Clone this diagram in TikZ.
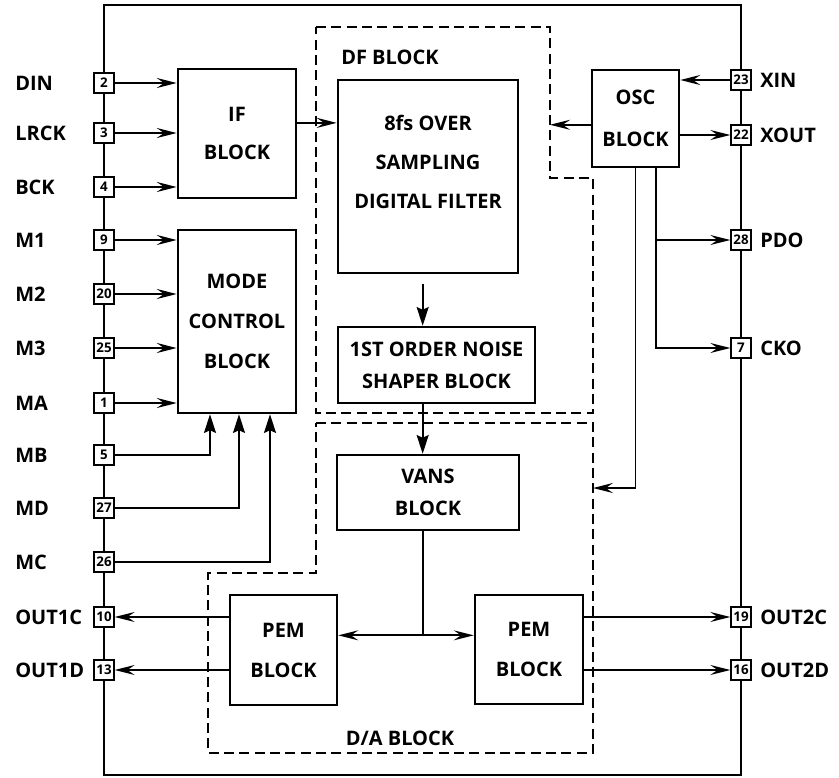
\documentclass[tikz,border=0pt]{standalone}
\usepackage{fontspec}
\setmainfont{Open Sans}
\usetikzlibrary{arrows.meta,positioning}

\begin{document}
\begin{tikzpicture}[
  x=0.75pt, y=-0.75pt,
  font=\bfseries\fontsize{15}{30}\selectfont,
  blk/.style={draw, line width=1.9pt, align=center, inner sep=0pt},
  tight/.style={font=\bfseries\fontsize{15}{24}\selectfont},
  pinbox/.style={draw, fill=white, line width=1.5pt, minimum size=14.5pt, inner sep=0pt,
    font=\bfseries\fontsize{10}{10}\selectfont},
  pinname/.style={anchor=west, inner sep=0pt},
  dashbox/.style={line width=1.6pt, dash pattern=on 7.5pt off 4pt},
  arr/.style={-{Stealth[length=15pt, width=7.5pt, inset=5.5pt]}, line width=1.3pt},
  arrv/.style={-{Stealth[length=14pt, width=9pt, inset=2pt]}, line width=1.4pt},
]
  \useasboundingbox (0,0) rectangle (839,778);

  % chip outline
  \draw[line width=1.8pt] (104,5) rectangle (741,775);

  % dashed groups
  \coordinate (dfnw) at (316,27);
  \coordinate (dfne) at (550,27);
  \coordinate (dane) at (593,423);
  \coordinate (dain) at (593,488);
  \draw[dashbox] (dfnw) -- (dfne) -- (550,178) -- (593,178) -- (593,413) -- (316,413) -- cycle;
  \draw[dashbox] (316,423) -- (dane) -- (593,753) -- (208,753) -- (208,573) -- (316,573) -- cycle;
  \node[pinname] (dflabel) at (341,57) {DF BLOCK};
  \node[inner sep=0pt] (dalabel) at (400,738) {D/A BLOCK};

  % blocks
  \node[blk, minimum width=88.5pt, minimum height=96.75pt, font=\bfseries\fontsize{15}{29}\selectfont] (ifb) at (237,133.5) {IF\\BLOCK};
  \node[blk, minimum width=88.5pt, minimum height=137.25pt] (mode) at (237,321.5) {MODE\\CONTROL\\BLOCK};
  \node[blk, minimum width=135pt, minimum height=144.75pt, text depth=22pt, font=\bfseries\fontsize{15}{29}\selectfont] (dsp) at (428,176.5) {8fs OVER\\SAMPLING\\DIGITAL FILTER};
  \node[blk, tight, minimum width=147.75pt, minimum height=57pt] (nse) at (436.5,365) {1ST ORDER NOISE\\SHAPER BLOCK};
  \node[blk, tight, minimum width=136.5pt, minimum height=56.25pt] (vans) at (428,492.5) {VANS\\BLOCK};
  \node[blk, minimum width=80.25pt, minimum height=82.5pt] (pemL) at (283.5,650) {PEM\\BLOCK};
  \node[blk, minimum width=81pt, minimum height=81.75pt] (pemR) at (529,649.5) {PEM\\BLOCK};
  \node[blk, minimum width=65.25pt, minimum height=72.75pt, font=\bfseries\fontsize{15}{31.5}\selectfont] (osc) at (635.5,118.5) {OSC\\BLOCK};

  % pins
  \foreach \num/\name/\yy in {2/DIN/83, 3/LRCK/133, 4/BCK/187, 9/M1/240, 20/M2/294, 25/M3/348,
      1/MA/403, 5/MB/455, 27/MD/508, 26/MC/562, 10/OUT1C/617, 13/OUT1D/670} {
    \node[pinbox] (p\num) at (104,\yy) {\num};
    \node[pinname] (n\num) at (15,\yy) {\name};
  }
  \foreach \num/\name/\yy in {23/XIN/80, 22/XOUT/135, 28/PDO/240, 7/CKO/348, 19/OUT2C/617, 16/OUT2D/670} {
    \node[pinbox] (p\num) at (741,\yy) {\num};
    \node[pinname] (n\num) at (760,\yy) {\name};
  }

  % inputs
  \foreach \num in {2,3,4} \draw[arr] (p\num) -- (p\num -| ifb.west);
  \foreach \num in {9,20,25,1} \draw[arr] (p\num) -- (p\num -| mode.west);
  \draw[arrv] (p5) -| ([xshift=-20.25pt]mode.south);
  \draw[arrv] (p27) -| ([xshift=1.5pt]mode.south);
  \draw[arrv] (p26) -| ([xshift=24.75pt]mode.south);

  % signal path
  \draw[arr] (ifb.10) -- (ifb.10 -| dsp.west);
  \coordinate (dfx) at ([xshift=-4pt]dsp.south);
  \draw[arrv] ([yshift=-7pt]dfx) -- (dfx |- nse.north);
  \draw[arrv] (dfx |- nse.south) -- (dfx |- vans.north);
  \coordinate (vj) at (dfx |- pemL.15);
  \draw[line width=1.3pt] (dfx |- vans.south) -- (vj);
  \draw[arr] (vj) -- (pemL.15);
  \draw[arr] (vj) -- (vj -| pemR.west);

  % outputs
  \foreach \num in {10,13} \draw[arr] (pemL.west |- p\num) -- (p\num);
  \foreach \num in {19,16} \draw[arr] (pemR.east |- p\num) -- (p\num);

  % clock
  \draw[arr] (p23) -- (p23 -| osc.east);
  \draw[arr] (osc.east |- p22) -- (p22);
  \draw[arr] (osc.188) -- (osc.188 -| dfne);
  \coordinate (ckx) at ([xshift=15.5pt]osc.south);
  \draw[arr] (ckx) |- (p7);
  \draw[arr] (ckx |- p28) -- (p28);
  \draw[arr] (osc.south) |- (dain);
\end{tikzpicture}
\end{document}
